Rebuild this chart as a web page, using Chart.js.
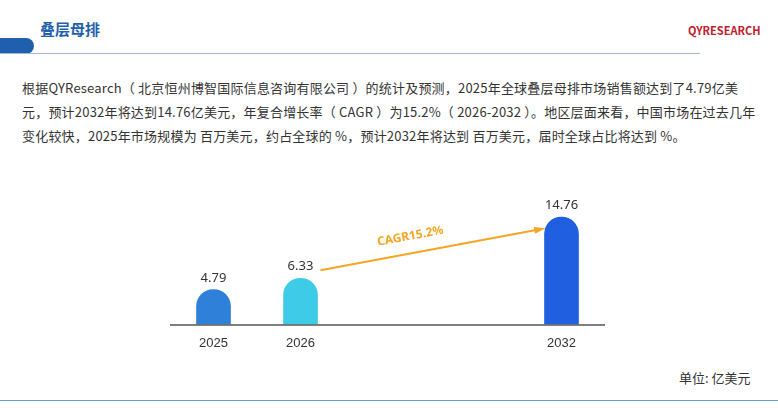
<!DOCTYPE html>
<html><head><meta charset="utf-8">
<script src="https://cdn.jsdelivr.net/npm/chart.js@4"></script>
<style>
body{margin:0;width:778px;height:410px;background:#fff;font-family:"Noto Sans CJK SC","Noto Sans",sans-serif;position:relative;overflow:hidden}
#title{position:absolute;left:40px;top:18px;color:#1f5fae;font-size:15px;font-weight:bold}
#bar{position:absolute;left:0;top:38px;width:34px;height:16px;background:#1f5fae;border-radius:0 8px 8px 0}
#line{position:absolute;left:0;top:53px;width:700px;height:1px;background:#9fb8d8}
#logo{position:absolute;left:688px;top:22px;color:#c0202a;font-size:11px;font-weight:bold}
#text{position:absolute;left:22px;top:76px;width:735px;font-size:13px;line-height:24px;color:#333;letter-spacing:0.2px}
#unit{position:absolute;left:679px;top:368px;font-size:13px;color:#333}
#bottom{position:absolute;left:0;top:400px;width:778px;height:1px;background:#6a9ad0}
#wrap{position:absolute;left:0;top:194px;width:778px;height:160px}
</style></head><body>
<div id="bar"></div><div id="title">叠层母排</div><div id="line"></div>
<div id="logo">QYRESEARCH</div>
<div id="text">根据QYResearch（ 北京恒州博智国际信息咨询有限公司 ）的统计及预测，2025年全球叠层母排市场销售额达到了4.79亿美元，预计2032年将达到14.76亿美元，年复合增长率（ CAGR ）为15.2%（ 2026-2032 ）。地区层面来看，中国市场在过去几年变化较快，2025年市场规模为 百万美元，约占全球的 %，预计2032年将达到 百万美元，届时全球占比将达到 %。</div>
<div id="wrap"><canvas id="c"></canvas></div>
<div id="unit">单位: 亿美元</div>
<div id="bottom"></div>
<script>
const years = ["2025", "2026", "", "", "2032"];
const values = [4.79, 6.33, null, null, 14.76];
const barColors = ["#2f80d8", "#3ecbe8", "#fff", "#fff", "#1f5fe0"];
const cagrLabel = "CAGR15.2%";

const extras = {
  id: "extras",
  afterDatasetsDraw(chart) {
    const ctx = chart.ctx;
    const meta = chart.getDatasetMeta(0);
    const a = chart.chartArea;
    ctx.save();
    ctx.strokeStyle = "#555"; ctx.lineWidth = 1.5;
    ctx.beginPath(); ctx.moveTo(a.left, a.bottom + 0.5); ctx.lineTo(a.right, a.bottom + 0.5); ctx.stroke();
    ctx.font = "13px 'Noto Sans',sans-serif"; ctx.fillStyle = "#333"; ctx.textAlign = "center";
    [0, 1, 4].forEach(i => ctx.fillText(values[i].toFixed(2), meta.data[i].x, meta.data[i].y - 8));
    const x1 = meta.data[1].x + 20, y1 = meta.data[1].y - 8;
    const x2 = meta.data[4].x - 20, y2 = meta.data[4].y + 12;
    ctx.strokeStyle = "#f5a623"; ctx.fillStyle = "#f5a623"; ctx.lineWidth = 2;
    ctx.beginPath(); ctx.moveTo(x1, y1); ctx.lineTo(x2, y2); ctx.stroke();
    const ang = Math.atan2(y2 - y1, x2 - x1);
    ctx.beginPath(); ctx.moveTo(x2 + 4 * Math.cos(ang), y2 + 4 * Math.sin(ang));
    ctx.lineTo(x2 - 8 * Math.cos(ang - 0.45), y2 - 8 * Math.sin(ang - 0.45));
    ctx.lineTo(x2 - 8 * Math.cos(ang + 0.45), y2 - 8 * Math.sin(ang + 0.45));
    ctx.fill();
    ctx.translate((x1 + x2) / 2 - 20, (y1 + y2) / 2 - 10); ctx.rotate(ang);
    ctx.font = "bold 12px 'Noto Sans',sans-serif"; ctx.fillText(cagrLabel, 0, 0);
    ctx.restore();
  }
};

new Chart(document.getElementById("c"), {
  type: "bar",
  data: { labels: years, datasets: [{ data: values, backgroundColor: barColors, barThickness: 34,
    borderRadius: { topLeft: 17, topRight: 17 }, borderSkipped: "bottom" }] },
  options: {
    responsive: true, maintainAspectRatio: false, animation: false,
    layout: { padding: { left: 170, right: 173, top: 14, bottom: 0 } },
    plugins: { legend: { display: false }, tooltip: { enabled: false } },
    scales: {
      x: { grid: { display: false }, border: { display: false },
        ticks: { color: "#333", font: { size: 13 } } },
      y: { display: false, min: 0, max: 16 }
    }
  },
  plugins: [extras]
});
</script>
</body></html>
